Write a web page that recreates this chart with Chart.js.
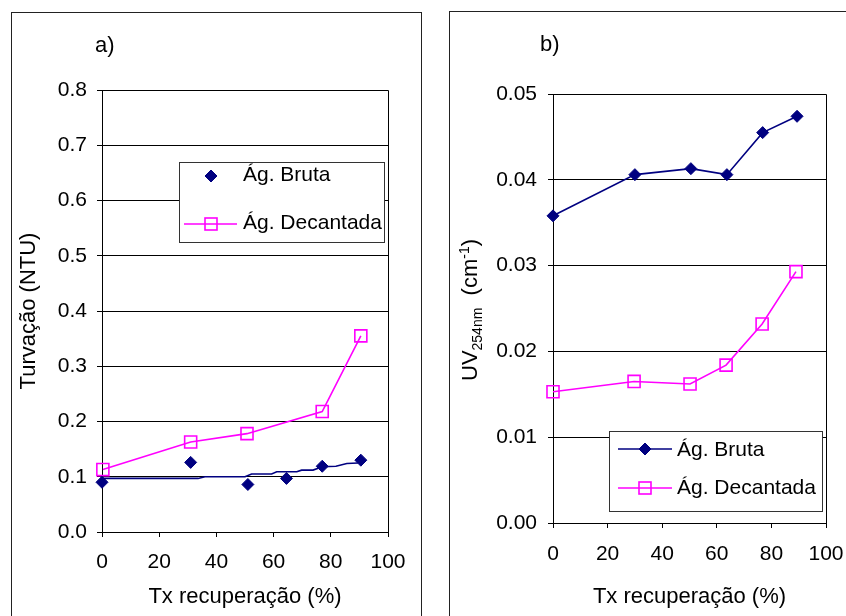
<!DOCTYPE html>
<html><head><meta charset="utf-8">
<script src="https://cdn.jsdelivr.net/npm/chart.js@4.4.1/dist/chart.umd.min.js"></script>
<style>
body{margin:0;background:#fff;width:846px;height:616px;overflow:hidden;position:relative}
.box{position:absolute;border:1px solid #222;box-sizing:border-box}
#boxA{left:11px;top:12px;width:411px;height:640px}
#boxB{left:449px;top:11px;width:440px;height:640px}
canvas{position:absolute}
</style></head><body>
<div class="box" id="boxA"></div><div class="box" id="boxB"></div>
<canvas id="cA" width="408" height="603" style="left:12px;top:13px"></canvas>
<canvas id="cB" width="395" height="604" style="left:451px;top:12px"></canvas>
<script>
// ---------- data ----------
const xTitle = 'Tx recuperação (%)';
const seriesNames = ['Ág. Bruta', 'Ág. Decantada'];
// chart a)
const a_bruta_x = [0, 31, 51, 64.5, 77, 90.5];
const a_bruta_y = [0.090, 0.126, 0.086, 0.097, 0.119, 0.130];
const a_trend_x = [0, 33.6, 36, 50, 52.3, 59.3, 61.1, 68.1, 69.8, 73.8, 77, 81.8, 85.6, 89.5];
const a_trend_y = [0.097, 0.097, 0.100, 0.100, 0.105, 0.105, 0.109, 0.109, 0.112, 0.112, 0.118, 0.119, 0.124, 0.125];
const a_dec_x = [0.3, 31, 50.7, 77, 90.5];
const a_dec_y = [0.113, 0.163, 0.178, 0.218, 0.355];
// chart b)
const b_bruta_x = [0, 30, 50.5, 63.7, 76.8, 89.4];
const b_bruta_y = [0.0358, 0.0406, 0.0413, 0.0406, 0.0455, 0.0474];
const b_dec_x = [0, 29.7, 50.2, 63.4, 76.6, 89];
const b_dec_y = [0.0153, 0.0165, 0.0162, 0.0184, 0.0232, 0.0293];

const NAVY = '#000080', MAG = '#FF00FF';
const FONT = "'Liberation Sans', Arial, sans-serif";
Chart.defaults.font.family = FONT;
Chart.defaults.color = '#000';

const pts = (xs, ys) => xs.map((x, i) => ({x, y: ys[i]}));

function diamond(ctx, x, y, r, c) {
  ctx.beginPath(); ctx.moveTo(x - r, y); ctx.lineTo(x, y - r); ctx.lineTo(x + r, y); ctx.lineTo(x, y + r); ctx.closePath();
  ctx.fillStyle = c; ctx.fill(); ctx.strokeStyle = c; ctx.lineWidth = 1; ctx.stroke();
}
function square(ctx, x, y, h, c) {
  ctx.strokeStyle = c; ctx.lineWidth = 1.6; ctx.strokeRect(x - h, y - h, 2 * h, 2 * h);
}
function frame(ctx, ca) {
  ctx.save(); ctx.strokeStyle = '#000'; ctx.lineWidth = 1;
  ctx.beginPath();
  ctx.moveTo(Math.round(ca.left) + 0.5, Math.round(ca.top) + 0.5);
  ctx.lineTo(Math.round(ca.right) + 0.5, Math.round(ca.top) + 0.5);
  ctx.lineTo(Math.round(ca.right) + 0.5, Math.round(ca.bottom) + 0.5);
  ctx.stroke(); ctx.restore();
}
function legendBox(ctx, x0, y0, x1, y1) {
  ctx.fillStyle = '#fff'; ctx.fillRect(x0, y0, x1 - x0, y1 - y0);
  ctx.strokeStyle = '#333'; ctx.lineWidth = 1; ctx.strokeRect(x0 + 0.5, y0 + 0.5, x1 - x0, y1 - y0);
}

function scalesFor(yMax, yStep, dec, yTitleText, yWidth, xHeight, xTickPad, yTickPad, showYTitle) {
  return {
    x: {type: 'linear', min: 0, max: 100,
      ticks: {stepSize: 20, font: {size: 21}, padding: xTickPad, maxRotation: 0},
      grid: {drawOnChartArea: false, color: '#000', tickLength: 5, tickColor: '#000'},
      border: {color: '#000'},
      title: {display: true, text: xTitle, font: {size: 22}, padding: {top: 0, bottom: 6}},
      afterFit(s) { s.height = xHeight; s.paddingLeft = 0; s.paddingRight = 0; }},
    y: {min: 0, max: yMax,
      ticks: {stepSize: yStep, font: {size: 21}, padding: yTickPad, callback: v => Number(v).toFixed(dec)},
      grid: {color: '#000', tickLength: 5, tickColor: '#000'},
      border: {color: '#000'},
      title: {display: showYTitle, text: yTitleText, font: {size: 22}, padding: {top: 4, bottom: 0}},
      afterFit(s) { s.width = yWidth; s.paddingTop = 0; s.paddingBottom = 0; }}
  };
}

// ---------- chart a ----------
const decorA = {id: 'decorA', afterDraw(chart) {
  const ctx = chart.ctx; ctx.save();
  frame(ctx, chart.chartArea);
  ctx.fillStyle = '#000'; ctx.font = '22px ' + FONT; ctx.textBaseline = 'alphabetic'; ctx.textAlign = 'left';
  ctx.fillText('a)', 83, 39);
  legendBox(ctx, 167, 149, 372, 229);
  diamond(ctx, 199, 163, 6, NAVY);
  ctx.strokeStyle = MAG; ctx.lineWidth = 1.5; ctx.beginPath(); ctx.moveTo(172, 211); ctx.lineTo(225, 211); ctx.stroke();
  square(ctx, 199, 211, 6, MAG);
  ctx.fillStyle = '#000'; ctx.font = '21px ' + FONT;
  ctx.fillText(seriesNames[0], 231, 168);
  ctx.fillText(seriesNames[1], 231, 216);
  ctx.restore();
}};

new Chart(document.getElementById('cA'), {
  type: 'scatter',
  data: {datasets: [
    {label: seriesNames[0], data: pts(a_bruta_x, a_bruta_y), showLine: false, pointStyle: 'rectRot', pointRadius: 6,
     backgroundColor: NAVY, borderColor: NAVY, pointBorderWidth: 1, clip: false},
    {label: 'trend', data: pts(a_trend_x, a_trend_y), showLine: true, pointRadius: 0, borderColor: NAVY, borderWidth: 1.6, clip: false},
    {label: seriesNames[1], data: pts(a_dec_x, a_dec_y), showLine: true, pointStyle: 'rect', pointRadius: 8.5,
     borderColor: MAG, backgroundColor: 'rgba(0,0,0,0)', pointBorderWidth: 1.6, borderWidth: 1.6, clip: false}
  ]},
  options: {responsive: false, animation: false, events: [],
    layout: {padding: {left: 0, right: 32, top: 77, bottom: 0}},
    plugins: {legend: {display: false}, tooltip: {enabled: false}},
    scales: scalesFor(0.8, 0.1, 1, 'Turvação (NTU)', 90, 84, 13, 10, true)},
  plugins: [decorA]
});

// ---------- chart b ----------
const decorB = {id: 'decorB', afterDraw(chart) {
  const ctx = chart.ctx; ctx.save();
  frame(ctx, chart.chartArea);
  ctx.fillStyle = '#000'; ctx.font = '22px ' + FONT; ctx.textBaseline = 'alphabetic'; ctx.textAlign = 'left';
  ctx.fillText('b)', 89, 39);
  // y title with subscript / superscript
  const big = '22px ' + FONT, small = '14px ' + FONT;
  const parts = [['UV', big, 0], ['254nm', small, 5], ['  (cm', big, 0], ['-1', small, -8], [')', big, 0]];
  let total = 0;
  parts.forEach(p => { ctx.font = p[1]; total += ctx.measureText(p[0]).width; });
  ctx.translate(26, 298 + total / 2); ctx.rotate(-Math.PI / 2);
  let x = 0;
  parts.forEach(p => { ctx.font = p[1]; ctx.fillText(p[0], x, p[2]); x += ctx.measureText(p[0]).width; });
  ctx.setTransform(1, 0, 0, 1, 0, 0);
  legendBox(ctx, 158, 419, 371, 499);
  ctx.strokeStyle = NAVY; ctx.lineWidth = 1.6; ctx.beginPath(); ctx.moveTo(167, 437); ctx.lineTo(221, 437); ctx.stroke();
  diamond(ctx, 194, 437, 6, NAVY);
  ctx.strokeStyle = MAG; ctx.lineWidth = 1.6; ctx.beginPath(); ctx.moveTo(167, 476); ctx.lineTo(221, 476); ctx.stroke();
  square(ctx, 194, 476, 6, MAG);
  ctx.fillStyle = '#000'; ctx.font = '21px ' + FONT;
  ctx.fillText(seriesNames[0], 226, 444);
  ctx.fillText(seriesNames[1], 226, 482);
  ctx.restore();
}};

new Chart(document.getElementById('cB'), {
  type: 'scatter',
  data: {datasets: [
    {label: seriesNames[0], data: pts(b_bruta_x, b_bruta_y), showLine: true, pointStyle: 'rectRot', pointRadius: 6,
     backgroundColor: NAVY, borderColor: NAVY, pointBorderWidth: 1, borderWidth: 1.6, clip: false},
    {label: seriesNames[1], data: pts(b_dec_x, b_dec_y), showLine: true, pointStyle: 'rect', pointRadius: 8.5,
     borderColor: MAG, backgroundColor: 'rgba(0,0,0,0)', pointBorderWidth: 1.6, borderWidth: 1.6, clip: false}
  ]},
  options: {responsive: false, animation: false, events: [],
    layout: {padding: {left: 0, right: 20, top: 82, bottom: 0}},
    plugins: {legend: {display: false}, tooltip: {enabled: false}},
    scales: scalesFor(0.05, 0.01, 2, '', 102, 93, 14, 11, false)},
  plugins: [decorB]
});
</script>
</body></html>
